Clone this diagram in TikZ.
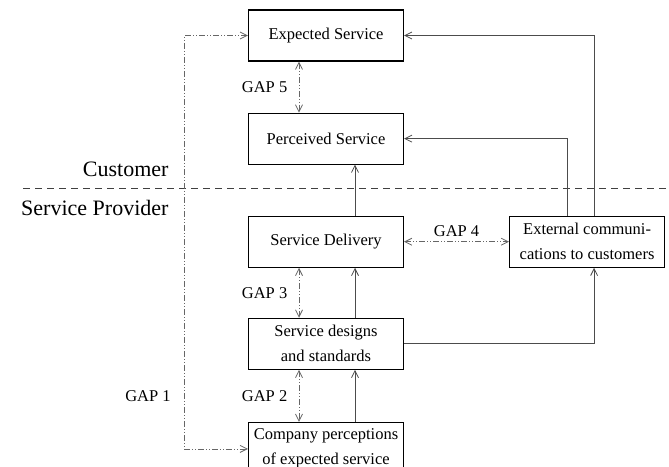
\documentclass[tikz,border=0pt]{standalone}
\usepackage{fontspec}
\setmainfont{Liberation Serif}
\usepackage{tikz}
\usetikzlibrary{positioning, arrows.meta}

\tikzset{
    box/.style = {draw, line width=1.1pt, minimum width=155pt, minimum height=51pt, inner sep=2pt,
                  align=center, font=\fontsize{16.5}{25}\selectfont},
    arr/.style = {draw=black!70, line width=0.8pt, -{Straight Barb[length=7pt,width=7pt]}},
    gap/.style = {draw=black!60, line width=0.8pt, dash pattern=on 6pt off 2pt on 1pt off 2pt on 1pt off 2pt,
                  {Straight Barb[length=7pt,width=7pt]}-{Straight Barb[length=7pt,width=7pt]}},
    gaplbl/.style = {font=\fontsize{16.5}{20}\selectfont},
    side/.style = {anchor=east, font=\fontsize{22}{26}\selectfont}
}

\begin{document}
\begin{tikzpicture}[x=1pt, y=-1pt]
    \useasboundingbox (0,0) rectangle (669,466);

    \node[box] (exp) at (326,35.5) {Expected Service};
    \node[box, below=51pt of exp] (perc) {Perceived Service};
    \node[box, below=51pt of perc] (deliv) {Service Delivery};
    \node[box, below=50pt of deliv] (design) {Service designs\\and standards};
    \node[box, below=52pt of design] (comp) {Company perceptions\\of expected service};
    \node[box, right=105pt of deliv] (ext) {External communi-\\cations to customers};

    % customer / provider split
    \coordinate (divl) at (23,188.6);
    \coordinate (divr) at (669,188.6);
    \draw[black!75, line width=1pt, dash pattern=on 7pt off 5pt] (divl) -- (divr);
    \node[side] (cust) at (172,169) {Customer};
    \node[side] (prov) at (172,208) {Service Provider};

    % service flow
    \draw[arr] ([xshift=29pt]comp.north) -- ([xshift=29pt]design.south);
    \draw[arr] ([xshift=29pt]design.north) -- ([xshift=29pt]deliv.south);
    \draw[arr] ([xshift=29pt]deliv.north) -- ([xshift=29pt]perc.south);
    \draw[arr] (design.east) -| ([xshift=7pt]ext.south);
    \draw[arr] ([xshift=-20pt]ext.north) |- (perc.east);
    \draw[arr] ([xshift=7pt]ext.north) |- (exp.east);

    % gaps
    \draw[gap] ([xshift=-27pt]exp.south) -- node[gaplbl, left=8pt] (g5) {GAP 5} ([xshift=-27pt]perc.north);
    \draw[gap] (deliv.east) -- node[gaplbl, above=1pt] (g4) {GAP 4} (ext.west);
    \draw[gap] ([xshift=-27pt]deliv.south) -- node[gaplbl, left=8pt] (g3) {GAP 3} ([xshift=-27pt]design.north);
    \draw[gap] ([xshift=-27pt]design.south) -- node[gaplbl, left=8pt] (g2) {GAP 2} ([xshift=-27pt]comp.north);
    \draw[gap] (exp.west) -- ++(-64,0) coordinate (g1top) |- ([yshift=-1pt]comp.west);
    \node[gaplbl] (g1) at (148,396) {GAP 1};
\end{tikzpicture}
\end{document}
